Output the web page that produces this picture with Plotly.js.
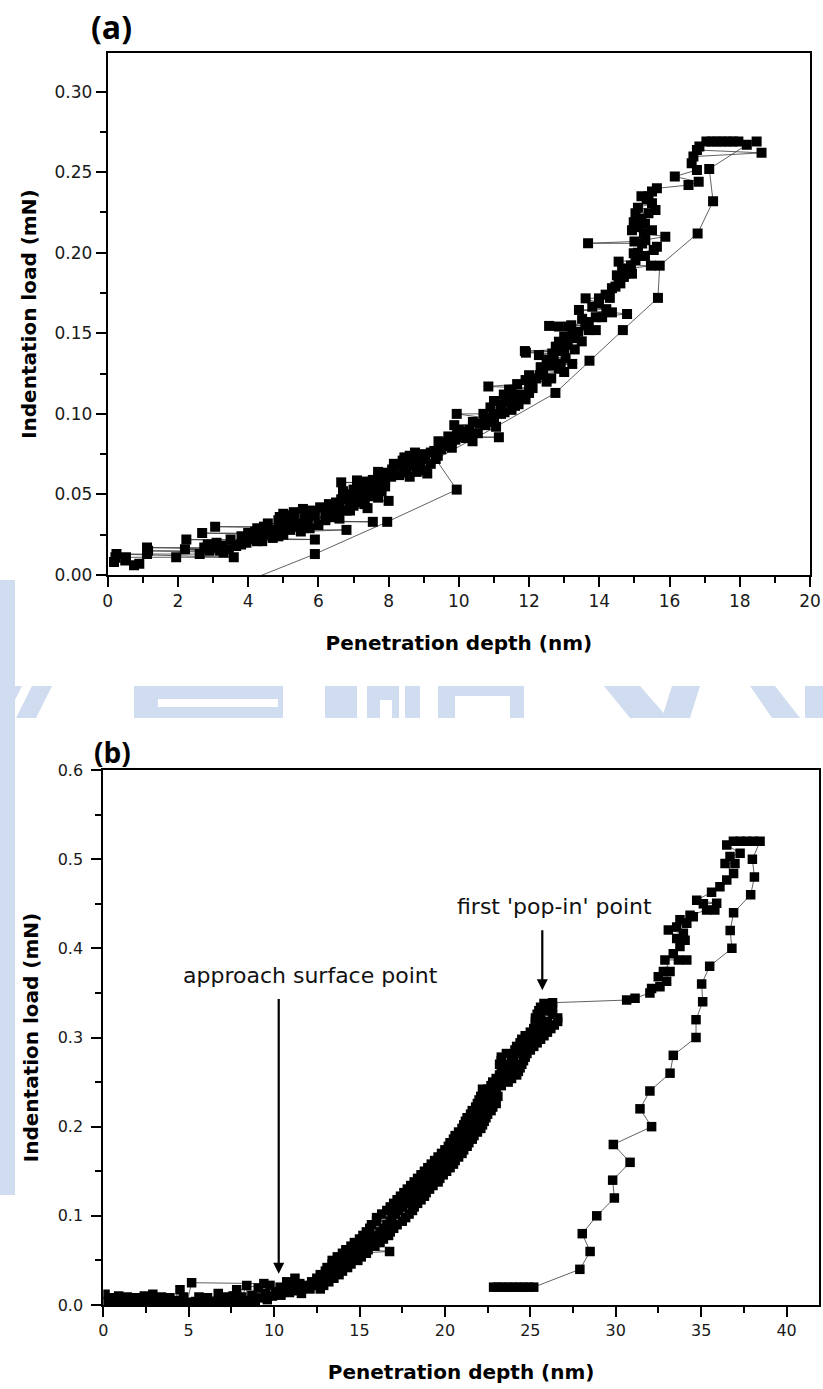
<!DOCTYPE html>
<html>
<head>
<meta charset="utf-8">
<script src="https://cdn.plot.ly/plotly-3.0.1.min.js"></script>
<style>
html,body{margin:0;padding:0;background:#fff;}
#chart{width:823px;height:1389px;}
</style>
</head>
<body>
<div id="chart"></div>
<script>
// ---------- Panel (a): loading segment (depth nm, load mN) ----------
const aLoadingDepth = [0.75,0.18,0.9,0.5,0.22,0.52,1.95,3.59,0.25,1.12,2.62,3.3,1.15,2.9,3.2,2.2,3.45,1.12,2.75,3.05,2.95,3.25,3.66,3.8,2.85,3.1,3.95,4.25,2.24,3.5,4.1,5.9,3.9,4.3,3.81,4.41,4.86,4.1,2.69,4.6,4.2,4.8,5.5,6.8,4.71,4.26,4.95,5.75,3.06,4.45,5.15,6.0,4.56,5.53,5.0,7.55,4.86,5.7,6.2,5.3,6.4,5.9,5.0,6.55,5.3,6.35,6.8,5.8,5.56,7.4,6.05,6.6,7.0,6.3,7.32,6.5,6.9,7.1,8.0,6.65,7.7,7.3,7.5,6.85,7.6,7.4,7.2,7.8,7.0,7.62,7.4,7.9,7.25,7.6,6.65,7.77,7.1,7.55,7.85,7.7,8.07,8.6,8.3,7.92,8.45,8.8,9.04,8.1,8.5,8.9,8.6,8.15,9.2,8.8,8.4,9.04,8.7,8.45,9.4,9.0,8.75,9.3,9.5,9.8,9.6,9.79,9.42,10.39,9.9,10.2,10.09,11.14,9.95,10.54,10.1,10.3,10.76,9.87,10.6,10.9,10.76,11.0,9.94,10.99,11.3,11.5,10.9,11.6,11.2,11.36,11.6,11.9,11.4,11.8,11.28,11.73,12.0,11.43,12.1,10.84,11.66,12.0,12.03,11.9,12.2,12.63,12.3,12.4,13.0,12.38,12.85,12.33,12.6,13.23,12.5,12.7,12.57,13.04,12.28,12.66,11.91,12.8,11.88,13.0,12.76,13.1,12.85,13.04,13.3,13.0,13.23,13.4,13.7,12.57,12.85,13.13,13.6,13.7,13.51,14.08,14.79,14.36,13.42,13.8,13.99,13.61,13.99,14.18,14.36,14.46,14.6,14.55,14.7,14.74,14.93,14.65,14.8,15.47,14.55,15.03,14.98,15.1,15.55,15.64,15.22,13.68,15.31,15.88,15.27,14.93,15.5,15.12,14.98,15.2,15.03,15.4,15.6,15.1,15.5,15.35,15.4,15.64,16.54,16.83,16.15,16.78,16.63,16.68,18.62,16.78,16.85,17.05,17.2,17.35,17.5,17.65,17.8,17.96,18.48,
  4.0,4.4,4.7,5.0,5.2,5.4,5.6,5.2,4.9,6.2,6.6,6.9,7.2,7.5,7.3,7.9,7.0,6.7,7.7,8.3,8.6,8.9,9.2,9.5,9.7,10.0,9.1,10.4,10.7,10.3,11.0,11.2,11.5,11.7,12.0,12.5,12.9,13.3,13.5,13.2,13.9,14.2,13.9,14.3,14.5,14.9,15.3,15.0,15.3,15.2,15.5];
const aLoadingLoad = [0.006,0.008,0.007,0.009,0.011,0.011,0.011,0.011,0.013,0.013,0.013,0.014,0.015,0.015,0.015,0.016,0.016,0.017,0.017,0.017,0.018,0.018,0.018,0.019,0.019,0.02,0.02,0.021,0.022,0.022,0.022,0.022,0.023,0.023,0.024,0.024,0.024,0.025,0.026,0.026,0.027,0.027,0.027,0.028,0.028,0.029,0.029,0.029,0.03,0.03,0.031,0.031,0.032,0.032,0.033,0.033,0.034,0.034,0.034,0.035,0.036,0.037,0.038,0.038,0.039,0.039,0.04,0.04,0.041,0.0415,0.042,0.042,0.043,0.044,0.044,0.045,0.046,0.046,0.046,0.047,0.048,0.048,0.049,0.05,0.05,0.051,0.052,0.052,0.053,0.054,0.055,0.055,0.056,0.057,0.0575,0.0575,0.0587,0.059,0.06,0.061,0.061,0.061,0.062,0.0635,0.0635,0.064,0.065,0.0655,0.066,0.067,0.068,0.069,0.069,0.07,0.071,0.072,0.072,0.073,0.074,0.075,0.076,0.077,0.078,0.079,0.08,0.082,0.083,0.083,0.084,0.085,0.0855,0.0855,0.087,0.088,0.089,0.09,0.093,0.093,0.094,0.095,0.0975,0.097,0.1,0.1,0.101,0.1025,0.104,0.105,0.106,0.1075,0.109,0.109,0.11,0.111,0.112,0.112,0.113,0.115,0.116,0.117,0.1185,0.119,0.12,0.121,0.122,0.122,0.124,0.125,0.126,0.127,0.128,0.129,0.13,0.131,0.132,0.133,0.1335,0.1345,0.1365,0.1375,0.138,0.139,0.139,0.14,0.1417,0.143,0.1448,0.146,0.147,0.148,0.15,0.151,0.152,0.1546,0.1542,0.1542,0.155,0.157,0.159,0.16,0.162,0.163,0.1645,0.1665,0.1686,0.1717,0.1717,0.174,0.178,0.179,0.181,0.183,0.185,0.187,0.187,0.189,0.19,0.192,0.1945,0.1955,0.1997,0.2,0.2017,0.2038,0.2058,0.2059,0.2079,0.21,0.212,0.214,0.214,0.216,0.219,0.221,0.2245,0.2245,0.2266,0.228,0.2307,0.233,0.235,0.24,0.242,0.244,0.2473,0.2514,0.2556,0.2597,0.262,0.2638,0.266,0.269,0.269,0.269,0.269,0.269,0.269,0.269,0.269,
  0.026,0.021,0.023,0.025,0.028,0.03,0.035,0.037,0.036,0.038,0.035,0.04,0.045,0.053,0.058,0.058,0.049,0.052,0.064,0.068,0.074,0.07,0.076,0.082,0.086,0.09,0.063,0.095,0.1,0.087,0.108,0.1,0.113,0.106,0.124,0.12,0.131,0.14,0.145,0.155,0.16,0.165,0.152,0.172,0.186,0.192,0.198,0.207,0.218,0.235,0.238];
// Panel (a): unloading segment
const aUnloadingDepth = [18.2,17.13,17.24,16.8,15.72,15.67,14.67,13.72,12.75,11.06,9.34,9.94,7.96,5.9,3.6];
const aUnloadingLoad = [0.267,0.252,0.232,0.212,0.192,0.172,0.152,0.133,0.113,0.092,0.072,0.053,0.033,0.013,-0.007];

// ---------- Panel (b): approach segment ----------
const bApproachDepth = [0.1,0.1,0.4,0.6,0.9,1.1,1.4,1.6,1.9,2.1,2.4,2.6,2.9,3.1,3.4,3.6,3.9,4.1,4.49,4.4,4.7,4.9,5.17,9.4,5.4,5.6,5.9,6.1,6.4,6.73,6.9,7.1,7.4,7.6,7.81,7.9,8.1,8.4,8.4,8.7,8.9,9.07,9.2,9.5,9.6,9.76,9.9,10.1,10.35,10.4,10.6,10.74,10.9,11.1,11.22,11.3,11.5,11.6];
const bApproachLoad = [0.012,0.004,0.008,0.003,0.01,0.004,0.009,0.003,0.008,0.004,0.01,0.004,0.012,0.004,0.009,0.003,0.008,0.004,0.017,0.005,0.009,0.003,0.025,0.024,0.004,0.009,0.003,0.008,0.004,0.013,0.004,0.009,0.004,0.01,0.017,0.004,0.009,0.022,0.005,0.011,0.005,0.019,0.008,0.013,0.006,0.022,0.01,0.015,0.02,0.011,0.017,0.026,0.014,0.02,0.03,0.016,0.024,0.013];
// Panel (b): loading segment
const bLoadingDepth = [11.6,12.7,12.1,12.4,11.9,12.9,12.2,13.2,12.7,13.5,12.5,13.0,12.7,13.8,13.3,14.0,13.0,13.5,13.1,14.3,13.7,14.5,13.4,13.9,13.4,14.9,14.1,15.1,13.7,14.4,14.0,15.4,14.7,16.76,15.5,14.2,14.9,14.5,15.9,15.1,16.2,14.7,15.4,15.0,16.4,15.7,16.7,15.2,15.9,15.4,16.8,16.2,17.0,15.6,16.4,15.7,17.2,16.6,17.5,16.0,16.8,16.0,17.7,16.9,17.9,16.3,17.1,16.6,18.1,17.3,18.2,16.8,17.5,17.0,18.4,17.7,18.6,17.2,17.9,17.4,18.8,18.1,18.9,17.6,18.3,17.8,19.1,18.5,19.3,18.0,18.7,18.2,19.6,18.9,19.7,18.4,19.1,18.6,19.9,19.3,20.1,18.8,19.5,19.0,20.3,19.7,20.5,19.2,19.9,19.4,20.6,20.0,20.8,19.6,20.2,19.8,21.0,20.4,21.1,20.0,20.6,20.2,21.3,20.8,21.4,20.3,20.9,20.5,21.6,21.1,21.7,20.6,21.2,20.8,21.9,21.4,22.1,21.0,21.5,21.1,22.2,21.7,22.3,21.2,21.8,21.3,22.4,21.9,22.5,21.5,22.0,21.6,22.7,22.1,22.8,21.8,22.3,21.9,23.0,22.5,22.9,22.0,22.6,22.1,23.1,22.5,22.3,23.0,22.6,22.2,22.9,22.5,23.3,22.7,23.0,22.8,23.7,23.3,23.9,23.0,23.5,23.2,24.2,23.6,24.3,23.3,23.8,23.4,24.4,23.9,24.5,23.2,23.8,23.3,24.6,24.0,24.7,23.3,23.9,23.6,24.8,24.2,25.0,24.1,24.5,24.2,25.2,24.7,25.4,24.4,24.9,24.5,25.6,25.1,25.8,24.7,25.3,25.0,26.0,25.5,26.2,25.2,25.7,25.3,26.4,25.8,26.6,25.3,26.0,25.3,26.6,25.5,26.3,25.4,25.6,25.5,26.2,25.7,25.6,26.3,26.0,25.8,26.3,
  30.64,31.13,32.0,32.1,32.59,32.98,32.49,32.79,33.18,32.88,33.67,34.16,33.37,33.76,34.06,33.57,33.96,33.08,33.57,34.16,33.76,34.54,34.35,35.32,35.8,35.13,35.91,34.74,35.61,36.1,36.5,36.9,36.4,36.98,36.69,37.28,36.5,36.89,37.28,37.67,38.06,38.45];
const bLoadingLoad = [0.018,0.018,0.018,0.022,0.022,0.022,0.026,0.026,0.026,0.03,0.03,0.03,0.034,0.034,0.034,0.038,0.038,0.038,0.042,0.042,0.042,0.046,0.046,0.046,0.05,0.05,0.05,0.054,0.054,0.054,0.058,0.058,0.058,0.06,0.062,0.062,0.062,0.066,0.066,0.066,0.07,0.07,0.07,0.074,0.074,0.074,0.078,0.078,0.078,0.082,0.082,0.082,0.086,0.086,0.086,0.09,0.09,0.09,0.094,0.094,0.094,0.098,0.098,0.098,0.102,0.102,0.102,0.106,0.106,0.106,0.11,0.11,0.11,0.114,0.114,0.114,0.118,0.118,0.118,0.122,0.122,0.122,0.126,0.126,0.126,0.13,0.13,0.13,0.134,0.134,0.134,0.138,0.138,0.138,0.142,0.142,0.142,0.146,0.146,0.146,0.15,0.15,0.15,0.154,0.154,0.154,0.158,0.158,0.158,0.162,0.162,0.162,0.166,0.166,0.166,0.17,0.17,0.17,0.174,0.174,0.174,0.178,0.178,0.178,0.182,0.182,0.182,0.186,0.186,0.186,0.19,0.19,0.19,0.194,0.194,0.194,0.198,0.198,0.198,0.202,0.202,0.202,0.206,0.206,0.206,0.21,0.21,0.21,0.214,0.214,0.214,0.218,0.218,0.218,0.222,0.222,0.222,0.226,0.226,0.226,0.23,0.23,0.23,0.234,0.234,0.234,0.238,0.238,0.238,0.242,0.242,0.242,0.246,0.246,0.246,0.25,0.25,0.25,0.254,0.254,0.254,0.258,0.258,0.258,0.262,0.262,0.262,0.266,0.266,0.266,0.27,0.27,0.27,0.274,0.274,0.274,0.278,0.278,0.278,0.282,0.282,0.282,0.286,0.286,0.286,0.29,0.29,0.29,0.294,0.294,0.294,0.298,0.298,0.298,0.302,0.302,0.302,0.306,0.306,0.306,0.31,0.31,0.31,0.314,0.314,0.314,0.318,0.318,0.318,0.322,0.322,0.322,0.326,0.326,0.326,0.33,0.33,0.33,0.334,0.334,0.334,0.338,0.339,
  0.342,0.344,0.35,0.355,0.357,0.363,0.368,0.374,0.374,0.387,0.387,0.387,0.394,0.402,0.409,0.411,0.417,0.4205,0.424,0.428,0.432,0.4355,0.437,0.443,0.443,0.45,0.4505,0.454,0.463,0.469,0.4766,0.484,0.495,0.495,0.503,0.5066,0.516,0.52,0.52,0.52,0.52,0.52];
// Panel (b): unloading segment
const bUnloadingDepth = [38.0,38.12,37.9,36.9,36.7,36.8,35.5,35.03,35.09,34.7,34.7,33.37,33.18,32.0,31.42,32.1,29.86,30.84,29.82,29.92,28.89,28.04,28.5,27.9,25.2,24.9,24.6,24.3,24.0,23.7,23.4,23.1,22.85];
const bUnloadingLoad = [0.50,0.48,0.46,0.44,0.42,0.40,0.38,0.36,0.34,0.32,0.30,0.28,0.26,0.24,0.22,0.20,0.18,0.16,0.14,0.12,0.10,0.08,0.06,0.04,0.02,0.02,0.02,0.02,0.02,0.02,0.02,0.02,0.02];

// ---------- Text ----------
const panelLabels = ['(a)', '(b)'];
const xTitle = 'Penetration depth (nm)';
const yTitle = 'Indentation load (mN)';
const annotationTexts = ['approach surface point', "first 'pop-in' point"];

// loading points of (a) are recorded in order of increasing load
const aOrder = aLoadingLoad.map((v,i)=>i).sort((p,q)=>aLoadingLoad[p]-aLoadingLoad[q]);
const aX = aOrder.map(i=>aLoadingDepth[i]).concat(aUnloadingDepth);
const aY = aOrder.map(i=>aLoadingLoad[i]).concat(aUnloadingLoad);
const bX = bApproachDepth.concat(bLoadingDepth, bUnloadingDepth);
const bY = bApproachLoad.concat(bLoadingLoad, bUnloadingLoad);

const markerA = {symbol:'square', size:10, color:'#000', line:{width:0}};
const markerB = {symbol:'square', size:9.5, color:'#000', line:{width:0}};
const lineStyle = {color:'#3a3a3a', width:0.8};

const traces = [
  {type:'scatter', mode:'lines+markers', x:aX, y:aY, xaxis:'x', yaxis:'y',
   marker:markerA, line:lineStyle, showlegend:false, cliponaxis:true},
  {type:'scatter', mode:'lines+markers', x:bX, y:bY, xaxis:'x2', yaxis:'y2',
   marker:markerB, line:lineStyle, showlegend:false, cliponaxis:true}
];

const W = 823, H = 1389;
const tickFontA = {family:'DejaVu Sans, Arial, sans-serif', size:17, color:'#1a1a1a'};
const tickFontB = {family:'DejaVu Sans, Arial, sans-serif', size:16, color:'#1a1a1a'};
const titleFont = {family:'DejaVu Sans, Arial, sans-serif', size:20, color:'#000', weight:'bold'};

function axisBase(extra){
  return Object.assign({
    showline:true, linewidth:2, linecolor:'#000', mirror:true,
    showgrid:false, zeroline:false,
    ticks:'outside', ticklen:10, tickwidth:2, tickcolor:'#000',
    automargin:false
  }, extra);
}

// faint background watermark (paper pixels)
const wm = '#d0dcef';
function px(x){ return x/W; }
function py(y){ return 1 - y/H; }
function rectPx(x0,y0,x1,y1,color){
  return {type:'rect', xref:'paper', yref:'paper', x0:px(x0), x1:px(x1), y0:py(y1), y1:py(y0),
          fillcolor:color, line:{width:0}, layer:'below'};
}
function polyPx(pts,color){
  let d = 'M' + pts.map(p=>px(p[0]).toFixed(5)+','+py(p[1]).toFixed(5)).join('L') + 'Z';
  return {type:'path', xref:'paper', yref:'paper', path:d, fillcolor:color, line:{width:0}, layer:'below'};
}
const shapes = [
  rectPx(0,580,15,1195,wm),
  polyPx([[0,686],[22,686],[6,718],[0,718]],wm),
  polyPx([[32,686],[52,686],[36,718],[16,718]],wm),
  rectPx(134,686,283,718,wm),
  rectPx(158,699,278,707,'#ffffff'),
  rectPx(325,686,357,718,wm),
  rectPx(367,686,399,718,wm),
  rectPx(380,700,392,718,'#ffffff'),
  rectPx(405,686,420,718,wm),
  rectPx(438,686,524,718,wm),
  rectPx(455,696,510,718,'#ffffff'),
  polyPx([[604,686],[640,686],[668,718],[630,718]],wm),
  polyPx([[672,686],[700,686],[690,718],[662,718]],wm),
  polyPx([[750,686],[775,686],[800,718],[772,718]],wm),
  rectPx(805,686,823,718,wm)
];

const layout = {
  width:W, height:H,
  margin:{l:0, r:0, t:0, b:0},
  paper_bgcolor:'#fff', plot_bgcolor:'#fff',
  showlegend:false,
  shapes:shapes,
  xaxis: axisBase({domain:[107.7/W, 810/W], range:[0,20], anchor:'y', tick0:0, dtick:2,
    minor:{dtick:1, ticks:'outside', ticklen:6, tickwidth:2, tickcolor:'#000'},
    tickfont:tickFontA, title:{text:xTitle, font:titleFont, standoff:26}}),
  yaxis: axisBase({domain:[1-575/H, 1-53.3/H], range:[0,0.3238], anchor:'x', tick0:0, dtick:0.05, tickformat:'.2f',
    minor:{dtick:0.025, ticks:'outside', ticklen:6, tickwidth:2, tickcolor:'#000'},
    tickfont:tickFontA, title:{text:yTitle, font:titleFont, standoff:12}}),
  xaxis2: axisBase({domain:[103.3/W, 819/W], range:[0,41.9], anchor:'y2', tick0:0, dtick:5,
    minor:{dtick:2.5, ticks:'outside', ticklen:6, tickwidth:2, tickcolor:'#000'},
    tickfont:tickFontB, title:{text:xTitle, font:titleFont, standoff:26}}),
  yaxis2: axisBase({domain:[1-1305/H, 1-770/H], range:[0,0.6], anchor:'x2', tick0:0, dtick:0.1, tickformat:'.1f',
    minor:{dtick:0.05, ticks:'outside', ticklen:6, tickwidth:2, tickcolor:'#000'},
    tickfont:tickFontB, ticklabelstandoff:5, title:{text:yTitle, font:titleFont, standoff:14}}),
  annotations:[
    {xref:'paper', yref:'paper', x:111/W, y:1-26/H, text:panelLabels[0], showarrow:false,
     font:{family:'Open Sans, Arial, sans-serif', size:32, color:'#000', weight:'bold'}, xanchor:'center', yanchor:'middle'},
    {xref:'paper', yref:'paper', x:112/W, y:1-752/H, text:panelLabels[1], showarrow:false,
     font:{family:'Open Sans, Arial, sans-serif', size:28, color:'#000', weight:'bold'}, xanchor:'center', yanchor:'middle'},
    {xref:'x2', yref:'y2', x:12.13, y:0.37, text:annotationTexts[0], showarrow:false,
     font:{family:'DejaVu Sans, Arial, sans-serif', size:22, color:'#111'}, xanchor:'center', yanchor:'middle'},
    {xref:'x2', yref:'y2', x:26.4, y:0.447, text:annotationTexts[1], showarrow:false,
     font:{family:'DejaVu Sans, Arial, sans-serif', size:22, color:'#111'}, xanchor:'center', yanchor:'middle'},
    {xref:'x2', yref:'y2', axref:'x2', ayref:'y2', x:10.27, y:0.035, ax:10.27, ay:0.345, text:'',
     showarrow:true, arrowhead:2, arrowsize:1, arrowwidth:2.2, arrowcolor:'#000', standoff:0, startstandoff:0},
    {xref:'x2', yref:'y2', axref:'x2', ayref:'y2', x:25.7, y:0.353, ax:25.7, ay:0.422, text:'',
     showarrow:true, arrowhead:2, arrowsize:1, arrowwidth:2.2, arrowcolor:'#000', standoff:0, startstandoff:0}
  ]
};

Plotly.newPlot('chart', traces, layout, {staticPlot:true, displayModeBar:false});
</script>
</body>
</html>
